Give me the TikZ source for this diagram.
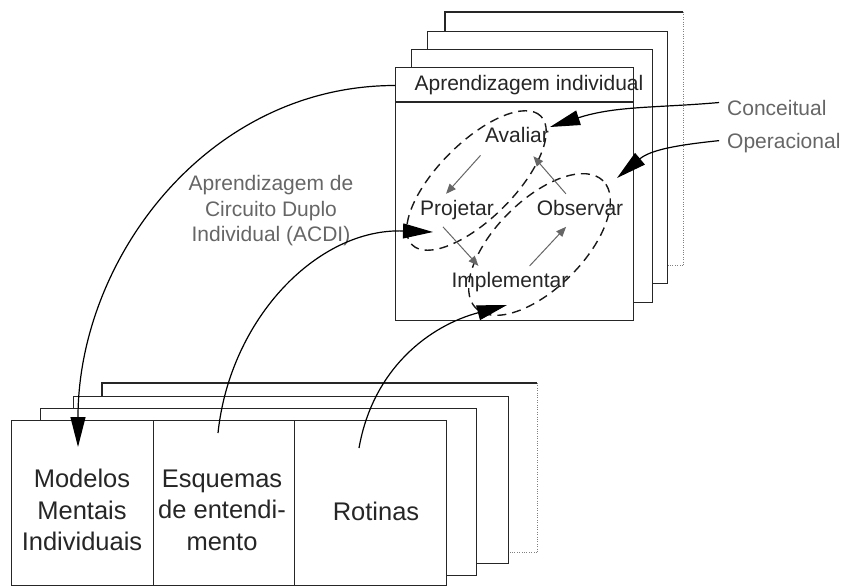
\documentclass[tikz,border=0pt]{standalone}
\usepackage{fontspec}
\setmainfont{Liberation Sans}
\usetikzlibrary{arrows.meta, positioning, calc}

\begin{document}
\begin{tikzpicture}[x=1pt, y=1pt,
    cardbox/.style={draw=black!85, line width=1.3pt, fill=white, anchor=north west, inner sep=0pt},
    backbox/.style={fill=white, anchor=north west, inner sep=0pt},
    looplabel/.style={font=\fontsize{21}{25.5}\selectfont, inner sep=2pt,
                      text height=15pt, text depth=4pt, text=black!85},
    sidetext/.style={font=\fontsize{21}{25.5}\selectfont, inner sep=2pt, align=center, text=black!60},
    coltext/.style={font=\fontsize{25.5}{31.5}\selectfont, align=center, text=black!85},
    ellipsedash/.style={draw=black!90, line width=1.4pt, dash pattern=on 9pt off 6pt},
    cyclearrow/.style={-{Triangle[length=10pt, width=8pt]}, draw=black!60, line width=1pt},
    feedback/.style={-{Triangle[length=30pt, width=15pt]}, line width=1.2pt}]

    \useasboundingbox (0,0) rectangle (846,-586);

    % Aprendizagem individual - stack of cards, back to front
    \node[backbox, minimum width=238pt, minimum height=253pt] (ind4) at (445,-12) {};
    \draw[line width=1.3pt, black!85] (ind4.south west) -- (ind4.north west) -- (ind4.north east);
    \draw[dotted, black!50] (ind4.north east) -- (ind4.south east) -- (ind4.south west);
    \node[cardbox, minimum width=240pt, minimum height=252pt] (ind3) at (427,-31) {};
    \node[cardbox, minimum width=241pt, minimum height=253pt] (ind2) at (411,-49) {};
    \node[cardbox, minimum width=238pt, minimum height=253pt] (indiv) at (395,-67) {};
    \draw[line width=1.3pt, black!85] ($(indiv.north west)+(0,-35)$) -- ($(indiv.north east)+(0,-35)$);
    \node[looplabel] (head) at (529,-85.5) {Aprendizagem individual};

    % Base - stack of cards with three columns
    \node[backbox, minimum width=435pt, minimum height=169pt] (base4) at (102,-383) {};
    \draw[line width=1.3pt, black!85] (base4.south west) -- (base4.north west) -- (base4.north east);
    \draw[dotted, black!50] (base4.north east) -- (base4.south east) -- (base4.south west);
    \node[cardbox, minimum width=435pt, minimum height=167pt] (base3) at (73,-396) {};
    \node[cardbox, minimum width=436pt, minimum height=167pt] (base2) at (40,-408) {};
    \node[cardbox, minimum width=142pt, minimum height=165pt] (modelos) at (11,-420) {};
    \node[cardbox, minimum width=141pt, minimum height=165pt] (esquemas) at (153,-420) {};
    \node[cardbox, minimum width=152pt, minimum height=165pt] (rotinas) at (294,-420) {};
    \node[coltext] (modelostxt) at (82,-510) {Modelos\\Mentais\\Individuais};
    \node[coltext] (esquemastxt) at (222,-510) {Esquemas\\de entendi-\\mento};
    \node[coltext] (rotinastxt) at (376,-511) {Rotinas};

    % the two learning loops
    \coordinate (loopA) at (476.5,-180.5);
    \coordinate (loopB) at (539.5,-244.5);
    \draw[ellipsedash, rotate around={45:(loopA)}] (loopA) ellipse [x radius=91, y radius=38];
    \draw[ellipsedash, rotate around={45:(loopB)}] (loopB) ellipse [x radius=90, y radius=44];

    \node[looplabel] (avaliar) at (517,-137) {Avaliar};
    \node[looplabel] (projetar) at (457,-210) {Projetar};
    \node[looplabel] (observar) at (580,-210) {Observar};
    \node[looplabel] (implementar) at (510,-282) {Implementar};

    \draw[cyclearrow, shorten <=9pt, shorten >=6pt] (avaliar.201.5) -- (projetar.142.5);
    \draw[cyclearrow, shorten <=7pt, shorten >=6pt] (projetar.212.9) -- (implementar.157);
    \draw[cyclearrow, shorten <=6pt, shorten >=7pt] (implementar.37.8) -- (observar.232.6);
    \draw[cyclearrow, shorten <=6pt, shorten >=10pt] (observar.131.8) -- (avaliar.310.7);

    % side labels
    \node[sidetext] (acdi) at (271,-211) {Aprendizagem de\\Circuito Duplo\\Individual (ACDI)};
    \node[sidetext, anchor=west] (conceitual) at (725,-107.5) {Conceitual};
    \node[sidetext, anchor=west] (operacional) at (725,-143.5) {Operacional};

    % arrow ends
    \coordinate (mmin) at (78,-447);
    \coordinate (esqout) at (218,-433);
    \coordinate (rotout) at (359,-448);
    \coordinate (avalin) at (550,-127);
    \coordinate (obsin) at (617,-178);
    \coordinate (projin) at (433,-232);
    \coordinate (implin) at (507,-305);

    % feedback connections
    \draw[feedback] (indiv.west |- head.center) to[out=180, in=90] (mmin);
    \draw[feedback] (esqout) to[out=84, in=178] (projin);
    \draw[feedback] (rotout) to[out=80, in=195] (implin);
    \draw[feedback, shorten <=6pt] ([yshift=5.5pt]conceitual.west) to[out=185, in=18] (avalin);
    \draw[feedback, shorten <=6pt] ([yshift=3.5pt]operacional.west) to[out=186, in=40] (obsin);
\end{tikzpicture}
\end{document}
